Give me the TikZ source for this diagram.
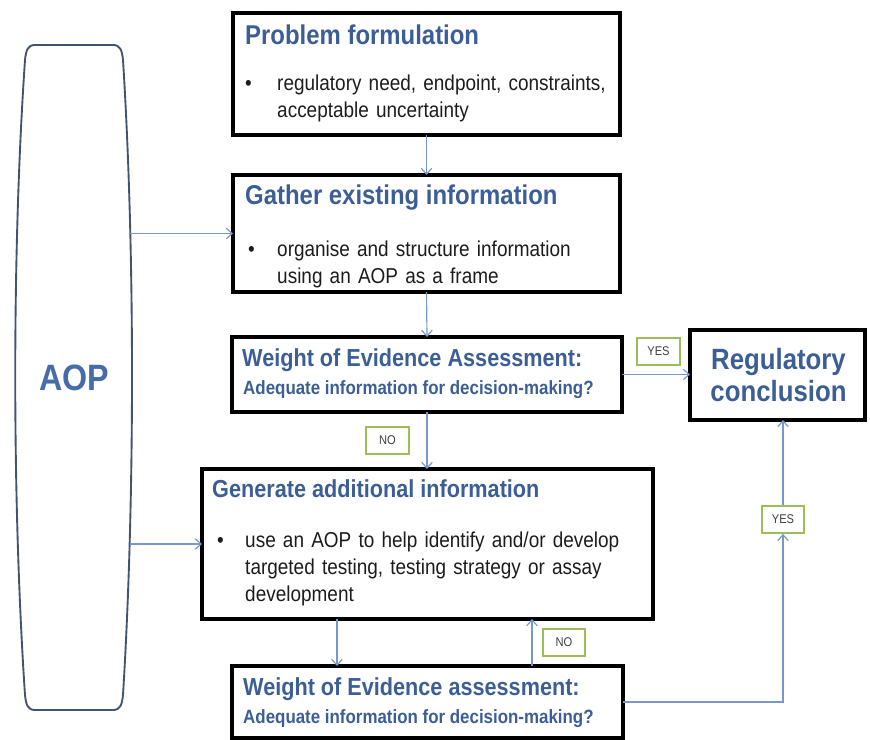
\documentclass[tikz,border=0pt]{standalone}
\usepackage{fontspec}
\setmainfont{Liberation Sans}[FakeStretch=0.88]
\usepackage{xcolor}
\usepackage{tikz}
\usetikzlibrary{calc}
\usetikzlibrary{positioning}
\usetikzlibrary{arrows.meta}

\definecolor{headblue}{RGB}{60,94,150}
\definecolor{aopblue}{RGB}{70,108,170}
\definecolor{flowblue}{RGB}{118,152,206}
\definecolor{aopedge}{RGB}{68,84,112}
\definecolor{taggreen}{RGB}{155,190,88}
\definecolor{bodygray}{RGB}{28,28,28}

\begin{document}
\begin{tikzpicture}[
    x = 0.03cm,
    y = -0.03cm,
    >={Straight Barb[length=5pt,width=9pt]},
    stepbox/.style = {
      rectangle,
      draw=black,
      line width=2.9pt,
      inner sep=0pt,
      outer sep=0pt
    },
    bighead/.style = {
      anchor=base west,
      inner sep=0pt,
      text=headblue,
      font=\bfseries\fontsize{23.2}{27}\selectfont
    },
    head/.style = {
      anchor=base west,
      inner sep=0pt,
      text=headblue,
      font=\bfseries\fontsize{21}{25}\selectfont
    },
    ask/.style = {
      anchor=base west,
      inner sep=0pt,
      text=headblue,
      font=\bfseries\fontsize{16.4}{19}\selectfont
    },
    bodytxt/.style = {
      anchor=base west,
      inner sep=0pt,
      text=bodygray,
      text width=14cm,
      align=left,
      font=\fontsize{18.4}{23}\selectfont
    },
    tag/.style = {
      rectangle,
      draw=taggreen,
      line width=1.8pt,
      fill=white,
      minimum width=1.28cm,
      minimum height=0.8cm,
      inner sep=0pt,
      text=black!75,
      font=\fontsize{10.8}{12}\selectfont
    },
    flow/.style = {
      draw=flowblue,
      line width=1pt,
      ->
    }
  ]
    \useasboundingbox (0,0) rectangle (870,740);

    % AOP frame
    \draw[aopedge, line width=1.6pt]
      (35,45) -- (113,45) .. controls (120,45) and (122,50) .. (123,60)
      .. controls (135,250) and (135,500) .. (123,695)
      .. controls (122,705) and (120,710) .. (113,710) -- (35,710)
      .. controls (28,710) and (26,705) .. (25,695)
      .. controls (12,500) and (12,250) .. (25,60)
      .. controls (26,50) and (28,45) .. (35,45) -- cycle;
    \node[minimum width=3.36cm, minimum height=19.95cm, inner sep=0pt,
          text=aopblue, font=\bfseries\fontsize{31.3}{36}\selectfont]
      (aop) at (74,378) {AOP};

    % boxes
    \node[stepbox, minimum width=11.61cm, minimum height=3.66cm] (prob) at (426.5,74) {};
    \node[stepbox, minimum width=11.61cm, minimum height=3.51cm] (gath) at (426.5,233.5) {};
    \node[stepbox, minimum width=11.7cm, minimum height=2.25cm] (woe) at (427,374.5) {};
    \node[stepbox, minimum width=5.25cm, minimum height=2.7cm] (reg) at (777.5,375) {};
    \node[stepbox, minimum width=13.53cm, minimum height=4.5cm] (gen) at (427.5,544) {};
    \node[stepbox, minimum width=11.73cm, minimum height=2.16cm] (woetwo) at (427.5,702) {};

    % box texts
    \node[bighead] (probhead) at ($(prob.north west)+(12,32)$) {Problem formulation};
    \node[bodytxt] (probdot) at ($(prob.north west)+(12,78)$) {\textbullet};
    \node[bodytxt] (probtxt) at ($(prob.north west)+(44,78)$)
      {regulatory need, endpoint, constraints,\\acceptable uncertainty};

    \node[bighead] (gathhead) at ($(gath.north west)+(12,30)$) {Gather existing information};
    \node[bodytxt] (gathdot) at ($(gath.north west)+(15,82)$) {\textbullet};
    \node[bodytxt] (gathtxt) at ($(gath.north west)+(44,82)$)
      {organise and structure information\\using an AOP as a frame};

    \node[head] (woehead) at ($(woe.north west)+(10,30)$) {Weight of Evidence Assessment:};
    \node[ask] (woeask) at ($(woe.north west)+(11,58)$) {Adequate information for decision-making?};

    \node[text=headblue, align=center, inner sep=0pt,
          font=\bfseries\fontsize{25}{28}\selectfont]
      (regtxt) at ($(reg.center)+(1,0)$) {Regulatory\\conclusion};

    \node[head] (genhead) at ($(gen.north west)+(10,29)$) {Generate additional information};
    \node[bodytxt] (gendot) at ($(gen.north west)+(15,79)$) {\textbullet};
    \node[bodytxt] (gentxt) at ($(gen.north west)+(43,79)$)
      {use an AOP to help identify and/or develop\\targeted testing, testing strategy or assay\\development};

    \node[head] (woetwohead) at ($(woetwo.north west)+(11,29)$) {Weight of Evidence assessment:};
    \node[ask] (woetwoask) at ($(woetwo.north west)+(11,57)$) {Adequate information for decision-making?};

    % labels
    \node[tag] (yesone) at (658.5,351.5) {YES};
    \node[tag] (noone) at (387.5,440.5) {NO};
    \node[tag] (yestwo) at (783,519.5) {YES};
    \node[tag] (notwo) at (564,642.5) {NO};

    % connectors
    \draw[flow] (prob.south) -- (gath.north);
    \draw[flow] (aop.east |- gath.west) -- (gath.west);
    \draw[flow] (gath.south) -- (woe.north);
    \draw[flow] (woe.east) -- (woe.east -| reg.west);
    \draw[flow] (woe.south) -- (woe.south |- gen.north);
    \draw[flow] (aop.east |- gen.west) -- (gen.west);
    \draw[flow] ($(gen.south west)+(135,0)$) coordinate (gdown) -- (gdown |- woetwo.north);
    \draw[flow] ($(woetwo.north west)+(300,0)$) coordinate (wup) -- (wup |- gen.south);
    \draw[flow] (woetwo.east) -| (yestwo.south);
    \draw[flow] (yestwo.north) -- (yestwo.north |- reg.south);
  \end{tikzpicture}
\end{document}
